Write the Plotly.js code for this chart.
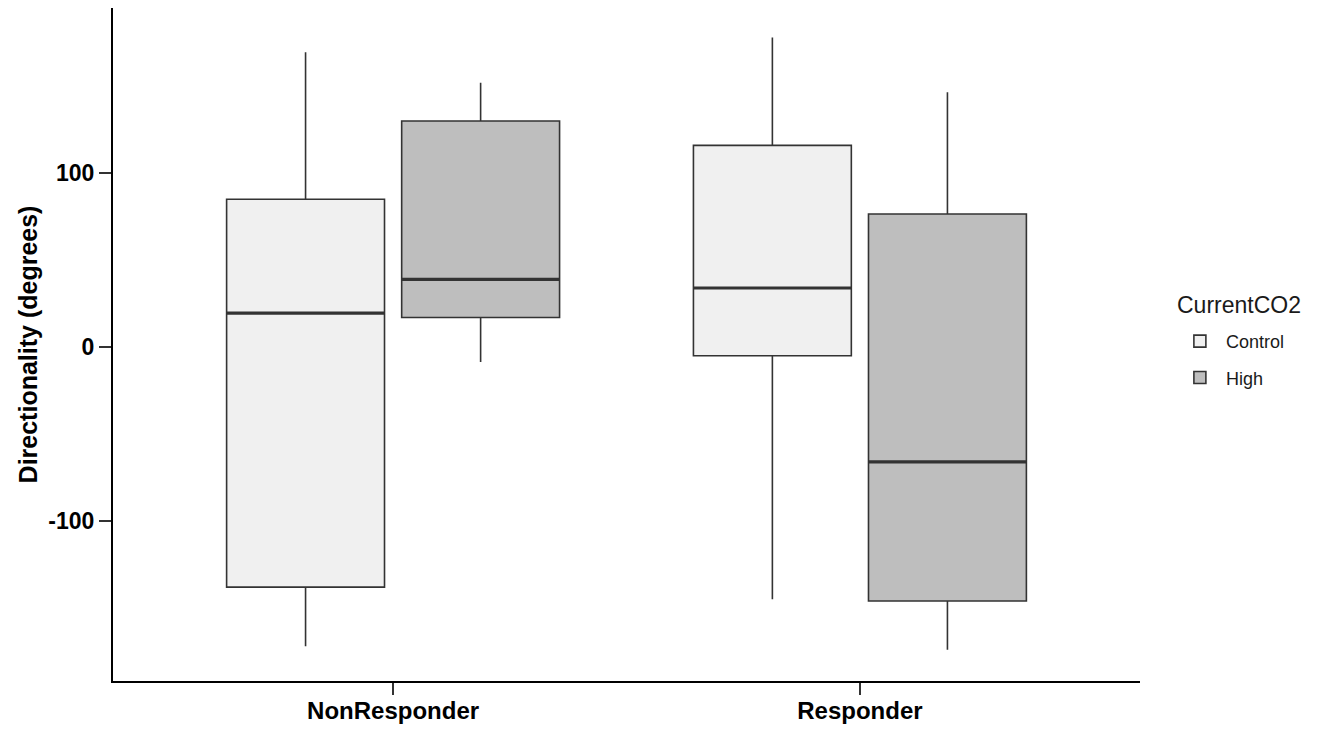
<!DOCTYPE html>
<html>
<head>
<meta charset="utf-8">
<script src="https://cdn.plot.ly/plotly-3.0.1.min.js"></script>
<style>html,body{margin:0;padding:0;background:#fff;}#chart{width:1317px;height:729px;}</style>
</head>
<body>
<div id="chart"></div>
<script>
const categories = ["NonResponder", "Responder"];
const groups = ["Control", "High"];
// five-number summaries per group, ordered as categories
const controlLower = [-172, -145];
const controlQ1 = [-138, -5];
const controlMedian = [19.5, 34];
const controlQ3 = [85, 116];
const controlUpper = [169.5, 178];
const highLower = [-8.5, -174];
const highQ1 = [17, -146];
const highMedian = [39, -66];
const highQ3 = [130, 76.5];
const highUpper = [152, 146.5];
const yTicks = [-100, 0, 100];
const legendTitle = "CurrentCO2";

const fills = {Control: "#F0F0F0", High: "#BEBEBE"};
const outline = "#333333";
const FONT = "Liberation Sans, Arial, sans-serif";

function boxTrace(name, lo, q1, med, q3, hi) {
  return {
    type: "box", name: name, x: categories,
    lowerfence: lo, q1: q1, median: med, q3: q3, upperfence: hi,
    fillcolor: fills[name], line: {color: outline, width: 1.6},
    whiskerwidth: 0, offsetgroup: name, legendgroup: name,
    boxpoints: false, hoverinfo: "y"
  };
}
function medianTrace(name, med) {
  return {
    type: "box", name: name + " median", x: categories,
    lowerfence: med, q1: med, median: med, q3: med, upperfence: med,
    fillcolor: outline, line: {color: outline, width: 3.2},
    whiskerwidth: 0, offsetgroup: name, legendgroup: name,
    showlegend: false, boxpoints: false, hoverinfo: "skip"
  };
}

const data = [
  boxTrace("Control", controlLower, controlQ1, controlMedian, controlQ3, controlUpper),
  boxTrace("High", highLower, highQ1, highMedian, highQ3, highUpper),
  medianTrace("Control", controlMedian),
  medianTrace("High", highMedian)
];

const layout = {
  width: 1317, height: 729,
  margin: {l: 113, r: 177, t: 8, b: 48},
  paper_bgcolor: "#fff", plot_bgcolor: "#fff",
  font: {family: FONT, color: "#000"},
  boxmode: "group", boxgap: 0.25, boxgroupgap: 0.098,
  xaxis: {
    type: "category", range: [-0.6, 1.6],
    showline: true, linecolor: "#000", linewidth: 2,
    ticks: "outside", ticklen: 12, tickwidth: 1.6, tickcolor: "#333",
    ticklabelstandoff: -5,
    showgrid: false, zeroline: false,
    tickfont: {size: 24, family: FONT, weight: "bold", color: "#000"}
  },
  yaxis: {
    range: [-192, 195], tickvals: yTicks, ticktext: yTicks.map(String),
    showline: true, linecolor: "#000", linewidth: 2,
    ticks: "outside", ticklen: 12, tickwidth: 1.6, tickcolor: "#333",
    showgrid: false, zeroline: false,
    tickfont: {size: 23, family: FONT, weight: "bold", color: "#000"},
    title: {text: "Directionality (degrees)", standoff: 4,
      font: {size: 25, family: FONT, weight: "bold", color: "#000"}}
  },
  showlegend: true,
  legend: {
    x: 1.033, xanchor: "left", y: 0.532, yanchor: "top",
    traceorder: "grouped", tracegroupgap: 10, itemwidth: 42,
    font: {size: 18, family: FONT, color: "#1a1a1a"}
  },
  annotations: [{
    text: legendTitle, xref: "paper", yref: "paper",
    x: 1.034, xanchor: "left", y: 0.5587, yanchor: "middle",
    showarrow: false, font: {size: 23, family: FONT, color: "#1a1a1a"}
  }]
};

Plotly.newPlot("chart", data, layout, {displayModeBar: false});
</script>
</body>
</html>
